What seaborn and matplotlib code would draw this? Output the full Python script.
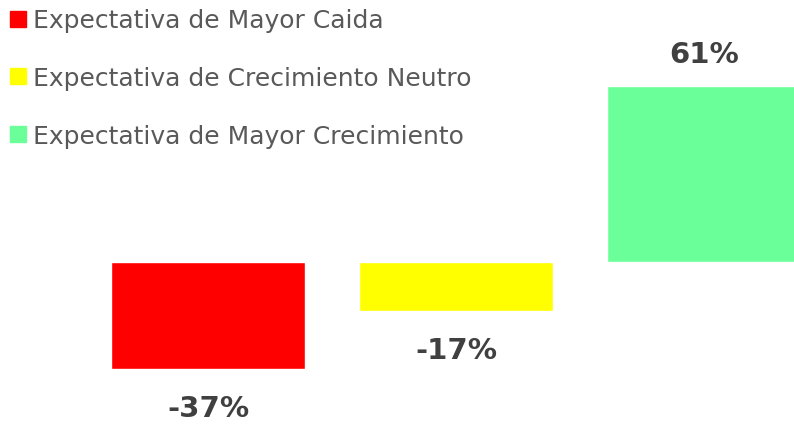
import matplotlib
matplotlib.use("Agg")
import matplotlib.pyplot as plt
from matplotlib.lines import Line2D
import pandas as pd
import seaborn as sns

categories = ["Expectativa de Mayor Caida",
              "Expectativa de Crecimiento Neutro",
              "Expectativa de Mayor Crecimiento"]
values = [-37, -17, 61]
labels = ["-37%", "-17%", "61%"]
colors = ["#FF0000", "#FFFF00", "#6BFF9A"]

sns.set_theme(style="white")
plt.rcParams["font.family"] = ["DejaVu Sans"]

df = pd.DataFrame({"cat": categories, "val": values})

fig = plt.figure(figsize=(7.94, 4.27), dpi=100)
ax = fig.add_axes([0, 0, 1, 1])
sns.barplot(data=df, x="cat", y="val", hue="cat", palette=colors,
            dodge=False, legend=False, width=0.786, saturation=1, ax=ax)
ax.set_xlim(-0.839, 2.363)
ax.set_ylim(-56.7, 91)
ax.axis("off")

for i, (v, lab) in enumerate(zip(values, labels)):
    off = 11 if v > 0 else -13.5
    ax.text(i, v + off, lab, ha="center", va="center", fontsize=21,
            fontweight="bold", color="#404040")

handles = [Line2D([], [], marker="s", linestyle="none", markersize=11,
                  markerfacecolor=c, markeredgecolor=c) for c in colors]
leg = ax.legend(handles, categories, loc="upper left", bbox_to_anchor=(0.009, 0.978),
                frameon=False, fontsize=18, labelcolor="#595959",
                handlelength=0.9, handletextpad=0.15, labelspacing=1.35,
                borderaxespad=0, borderpad=0)

fig.savefig("out.png", dpi=100)
